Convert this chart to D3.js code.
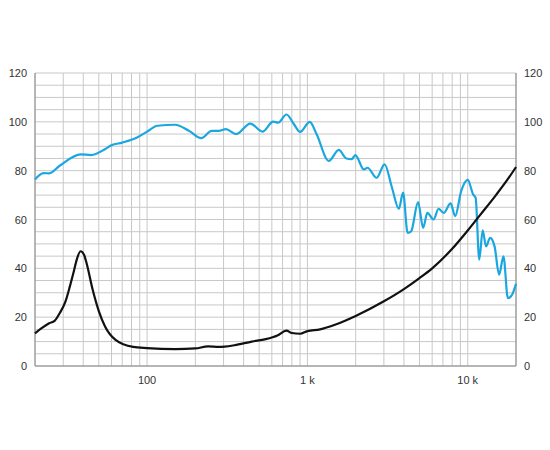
<!DOCTYPE html>
<html><head><meta charset="utf-8">
<script src="https://cdn.jsdelivr.net/npm/d3@7"></script>
<style>body{margin:0;background:#fff}text{font-family:Arial,"Liberation Sans",sans-serif}</style>
</head><body><svg id="chart" width="550" height="450"></svg>
<script>
// SPL (blue) curve
var splFreq = [20,22.6,24.5,28.5,38.5,44.7,54.7,60,70,86,100,116,149,183,218,253,280,310,360,440,525,612,657,740,825,900,1035,1140,1360,1570,1750,1890,1990,2250,2370,2700,3030,3370,3720,3950,4220,4440,4900,5270,5600,6120,6580,7080,7820,8350,9100,10000,10800,11200,11800,12400,13000,13800,14700,15700,16700,17800,18900,20000];
var splVal = [76.4,79,78.9,82,86.7,86.4,88.8,90.4,91.5,93.5,96,98.4,98.8,96.3,93.3,96.3,96.3,97,95,99.3,96,100.1,99.7,103,99,95.9,100,95,84,88.5,85,84.7,86.4,80.5,81.2,77.1,82.6,73,64.4,71,54.5,55.2,67.1,56.6,62.7,60,64.4,62.7,66.6,61.4,71.6,76.2,70.3,68.9,43.6,55.6,49,52.5,49,37.4,44.9,27.8,29.2,33.7];
// impedance (black) curve
var impFreq = [20,22,24.5,26.5,28.5,31,33,35,36.5,38.5,40.5,42,45.8,50,54.7,63.6,81.8,100,150,200,240,280,350,450,550,650,740,800,900,1000,1200,1500,2000,3000,4000,5000,6000,8000,10000,12000,15000,18000,20000];
var impVal = [13.4,15.5,17.5,18.5,21.6,26.5,32.6,39,43.8,47,45.5,42,31.2,22.5,16.2,10.7,7.8,7.3,6.9,7.2,8,7.8,8.5,10,11,12.5,14.5,13.5,13.2,14.3,15,17,20.5,26.5,31.5,36,40,48,55.5,62,70,77,81.5];
var yTicks = [0,20,40,60,80,100,120];
var xLabels = [[100,"100"],[1000,"1 k"],[10000,"10 k"]];

var svg = d3.select("#chart");
var pLeft = 35, pRight = 516, pTop = 73, pBottom = 366;

var x = d3.scaleLog().domain([20, 20000]).range([pLeft, pRight]);
var y = d3.scaleLinear().domain([0, 120]).range([pBottom, pTop]);

// grid
var vLines = [];
[10,100,1000,10000].forEach(function(d) {
    for (var k = 1; k < 10; k++) {
        var f = d * k;
        if (f >= 20 && f <= 20000) vLines.push(f);
    }
});
svg.append("g").selectAll("line").data(vLines).enter().append("line")
   .attr("x1", function(d) { return x(d); }).attr("x2", function(d) { return x(d); })
   .attr("y1", pTop).attr("y2", pBottom)
   .attr("stroke", "#c8c8c8").attr("stroke-width", 1);
svg.append("g").selectAll("line").data(d3.range(0, 121, 5)).enter().append("line")
   .attr("x1", pLeft).attr("x2", pRight)
   .attr("y1", function(d) { return y(d); }).attr("y2", function(d) { return y(d); })
   .attr("stroke", "#c8c8c8").attr("stroke-width", 1);

// axis lines
svg.append("line").attr("x1", pLeft).attr("x2", pLeft).attr("y1", pTop).attr("y2", pBottom).attr("stroke", "#888");
svg.append("line").attr("x1", pRight).attr("x2", pRight).attr("y1", pTop).attr("y2", pBottom).attr("stroke", "#888");
svg.append("line").attr("x1", pLeft).attr("x2", pRight).attr("y1", pBottom).attr("y2", pBottom).attr("stroke", "#888");

// tick labels
svg.append("g").selectAll("text").data(yTicks).enter().append("text")
   .attr("x", pLeft - 8).attr("y", function(d) { return y(d) + 4; })
   .attr("text-anchor", "end").attr("font-size", 11).attr("fill", "#333")
   .text(function(d) { return d; });
svg.append("g").selectAll("text").data(yTicks).enter().append("text")
   .attr("x", pRight + 8).attr("y", function(d) { return y(d) + 4; })
   .attr("text-anchor", "start").attr("font-size", 11).attr("fill", "#333")
   .text(function(d) { return d; });
svg.append("g").selectAll("text").data(xLabels).enter().append("text")
   .attr("x", function(d) { return x(d[0]); }).attr("y", pBottom + 18)
   .attr("text-anchor", "middle").attr("font-size", 11).attr("fill", "#333")
   .text(function(d) { return d[1]; });

var line = d3.line()
    .x(function(d) { return x(d[0]); })
    .y(function(d) { return y(d[1]); })
    .curve(d3.curveMonotoneX);

svg.append("path").datum(d3.zip(splFreq, splVal))
   .attr("d", line).attr("fill", "none").attr("stroke", "#1aa7e0").attr("stroke-width", 2.2);
svg.append("path").datum(d3.zip(impFreq, impVal))
   .attr("d", line).attr("fill", "none").attr("stroke", "#111").attr("stroke-width", 2.2);
</script>
</body></html>
